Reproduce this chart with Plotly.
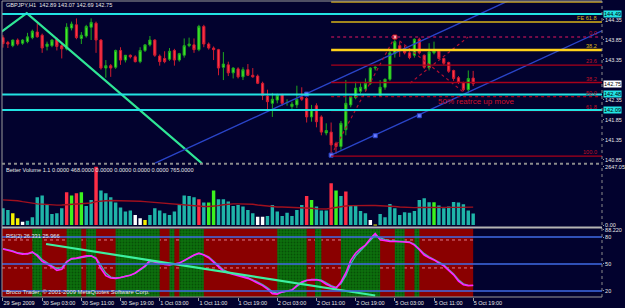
import plotly.graph_objects as go

# ---------------- data ----------------
bars = list(range(97))
opens = [143.90, 143.78, 143.70, 143.84, 143.76, 143.80, 143.90, 144.04, 143.96, 143.68,
         143.70, 143.86, 143.70, 143.62, 144.14, 144.22, 143.88, 143.94, 144.16, 144.26,
         143.84, 143.14, 143.20, 143.16, 143.58, 143.34, 143.46, 143.42, 143.30, 143.58,
         143.72, 143.84, 143.44, 143.38, 143.36, 143.58, 143.34, 143.46, 143.70, 143.72,
         143.60, 144.18, 143.74, 143.64, 143.60, 143.16, 143.22, 143.02, 143.12, 142.92,
         143.10, 142.96, 142.94, 142.76, 142.44, 142.26, 142.34, 142.48, 142.28, 142.18,
         142.22, 142.42, 142.38, 141.92, 142.20, 141.92, 141.52, 141.54, 141.26, 141.18,
         141.60, 142.22, 142.40, 142.56, 142.62, 142.76, 143.14, 142.46, 142.66, 142.86,
         143.50, 143.70, 143.62, 143.52, 143.46, 143.86, 143.46, 143.14, 143.52, 143.56,
         143.38, 143.28, 143.08, 142.90, 142.78, 142.60, 142.89]
highs = [143.96, 143.82, 143.85, 143.88, 143.86, 144.02, 144.10, 144.26, 144.00, 143.80,
         143.86, 143.90, 143.74, 144.26, 144.30, 144.38, 144.04, 144.22, 144.38, 144.30,
         143.86, 143.34, 143.24, 143.60, 143.66, 143.46, 143.48, 143.46, 143.66, 143.72,
         143.94, 143.86, 143.48, 143.56, 143.64, 143.62, 143.52, 143.88, 143.90, 143.88,
         144.22, 144.22, 143.78, 143.68, 143.62, 143.54, 143.30, 143.16, 143.16, 143.16,
         143.24, 143.14, 142.98, 142.80, 142.60, 142.52, 142.50, 142.50, 142.36, 142.30,
         142.70, 142.66, 142.42, 142.22, 142.26, 141.96, 141.76, 141.78, 141.30, 141.82,
         142.84, 142.44, 142.80, 142.76, 142.88, 143.16, 143.18, 142.84, 142.88, 143.60,
         143.91, 143.80, 143.70, 143.56, 143.88, 143.90, 143.48, 143.76, 143.80, 143.60,
         143.40, 143.30, 143.10, 142.94, 142.80, 143.08, 143.07]
lows = [143.65, 143.64, 143.66, 143.70, 143.72, 143.76, 143.86, 143.90, 143.52, 143.58,
        143.66, 143.58, 143.38, 143.58, 144.08, 143.86, 143.74, 143.90, 143.84, 143.52,
        143.10, 142.90, 142.92, 143.12, 143.22, 143.28, 143.38, 143.28, 143.26, 143.54,
        143.68, 143.42, 143.20, 143.26, 143.32, 143.20, 143.30, 143.40, 143.66, 143.52,
        143.56, 143.66, 143.60, 143.34, 142.96, 142.84, 142.94, 142.88, 142.88, 142.84,
        142.94, 142.90, 142.74, 142.34, 142.10, 141.92, 142.26, 142.20, 142.20, 142.12,
        142.14, 142.32, 141.78, 141.80, 141.66, 141.46, 141.46, 140.96, 141.00, 141.10,
        141.46, 142.16, 142.36, 142.50, 142.56, 142.72, 143.08, 142.44, 142.60, 142.82,
        143.40, 143.42, 143.48, 143.36, 143.40, 143.48, 143.12, 143.08, 143.48, 143.36,
        143.22, 143.02, 142.82, 142.74, 142.56, 142.52, 142.69]
closes = [143.75, 143.74, 143.84, 143.74, 143.84, 143.92, 144.06, 143.92, 143.64, 143.74,
          143.84, 143.68, 143.62, 144.16, 144.24, 143.90, 143.96, 144.18, 144.28, 143.84,
          143.14, 143.20, 143.14, 143.58, 143.34, 143.46, 143.42, 143.30, 143.58, 143.72,
          143.84, 143.46, 143.30, 143.30, 143.56, 143.34, 143.50, 143.70, 143.74, 143.60,
          144.18, 143.74, 143.64, 143.60, 143.14, 143.24, 143.02, 143.14, 142.92, 143.10,
          142.96, 142.92, 142.76, 142.46, 142.30, 142.36, 142.46, 142.26, 142.28, 142.24,
          142.36, 142.36, 141.92, 142.10, 141.80, 141.54, 141.58, 141.22, 141.18, 141.76,
          142.26, 142.42, 142.64, 142.66, 142.76, 143.14, 143.16, 142.66, 142.86, 143.52,
          143.80, 143.58, 143.52, 143.40, 143.86, 143.52, 143.16, 143.54, 143.58, 143.38,
          143.26, 143.06, 142.88, 142.78, 142.60, 142.88, 142.75]

volumes = [760, 684, 532, 304, 152, 198, 350, 1262, 1338, 912,
           502, 532, 760, 1490, 1338, 1444, 1490, 866, 1140, 2647,
           1566, 1444, 1262, 1018, 790, 608, 654, 456, 304, 228,
           456, 760, 654, 532, 456, 608, 942, 1338, 1322, 1262,
           1170, 1018, 1018, 1566, 1170, 1170, 1064, 866, 912, 836,
           684, 532, 380, 380, 410, 912, 608, 410, 562, 410,
           684, 912, 1322, 1140, 836, 654, 654, 1900, 1566, 1322,
           1520, 866, 912, 638, 532, 228, 20, 502, 350, 958,
           760, 456, 578, 562, 638, 1140, 1216, 1034, 1034, 882,
           760, 836, 1050, 1018, 942, 654, 520]
vol_kind = list("TTYYWTTTTT" "TTTRLRLTTR" "TTTTTTTWWY" "TTTTTTTTTT" "RTLLTTTTTT"
                "TTWWTTTTTT" "TTRLTTTRLT" "RTTTTWYTTT" "TTTTTTTTLT" "TTTTTTT")
vol_ma = [1140, 1130, 1120, 1100, 1060, 1020, 980, 960, 950, 930,
          910, 905, 910, 930, 950, 960, 980, 990, 1000, 1060,
          1090, 1100, 1110, 1110, 1100, 1100, 1100, 1090, 1080, 1060,
          1040, 1020, 1000, 990, 980, 970, 950, 930, 900, 870,
          850, 840, 840, 850, 880, 920, 950, 958, 960, 960,
          955, 940, 910, 880, 850, 830, 820, 815, 810, 800,
          790, 780, 775, 760, 740, 730, 730, 760, 800, 840,
          866, 880, 890, 890, 890, 890, 885, 880, 870, 860,
          840, 820, 800, 790, 790, 795, 800, 805, 805, 800,
          800, 800, 800, 800, 805, 810, 810]

rsi_main = [66.7, 65.5, 64, 62, 61, 61.5, 63.5, 59, 53, 50,
            47, 43, 44, 52, 56, 56.5, 57.5, 59, 59, 56,
            45, 37, 34.5, 34, 35, 36, 37.5, 40, 44, 48,
            54, 52, 50.5, 49.5, 49, 50, 51, 54, 57, 60,
            62, 60, 57, 52, 46, 42, 40, 38.5, 37, 36,
            34, 31.5, 29, 26, 22, 17, 16.5, 19, 20, 21,
            26, 30, 32, 32.5, 32.5, 31, 27.5, 25, 23, 30,
            40, 54, 62, 67, 71, 78, 84, 77, 76, 75,
            75, 75, 74.5, 74, 71, 66, 60, 57, 54.5, 51,
            48, 43, 38, 31, 27, 26, 26.331]
rsi_signal = [67, 66, 64.5, 62.5, 61.5, 61, 62.5, 60.5, 55, 51,
              48, 45, 46, 53, 55.5, 56, 57, 58.5, 59, 57,
              48, 40, 35.5, 34.5, 35, 36, 37.5, 39.5, 43.5, 47,
              52.5, 52.5, 51, 50, 49.5, 50, 51, 53.5, 56.5, 59.5,
              61.5, 60.5, 58, 53.5, 48, 43.5, 41, 39.5, 38, 36.5,
              35, 32.5, 30, 27, 23.5, 19, 17.5, 18.5, 20, 21,
              25, 29, 31.5, 33, 33, 32, 29, 26, 24, 28,
              37, 50, 59, 65, 70, 76, 82, 79, 77, 76,
              75.5, 75.5, 75, 74.5, 72, 67, 61.5, 58, 55, 52,
              49, 44, 39, 32.5, 28, 26.2, 25.966]
green_zone_start = [6, 13, 17, 23, 34, 36, 56, 63.7, 69, 80, 84]
green_zone_end = [8, 16, 19, 32, 35, 41, 62, 65, 77, 82, 85]
zone_end_bar = 96

tick_bars = [0, 8, 16, 24, 32, 40, 48, 56, 64, 72, 80, 88, 96]
tick_labels = ['29 Sep 2009', '30 Sep 03:00', '30 Sep 11:00', '30 Sep 19:00', '1 Oct 03:00',
               '1 Oct 11:00', '1 Oct 19:00', '2 Oct 03:00', '2 Oct 11:00', '2 Oct 19:00',
               '5 Oct 03:00', '5 Oct 11:00', '5 Oct 19:00']
price_ticks = [144.35, 143.85, 143.35, 142.35, 141.85, 141.35, 140.85]

cyan_levels = [144.49, 142.48, 142.09]
fib_start_bar = 67
fib_high = 143.915
fib_low = 140.94
fib_pcts = [0.0, 23.6, 38.2, 50.0, 61.8, 100.0]
fib_texts = ['0.0', '23.6', '38.2', '50.0', '61.8', '100.0']
fe_levels = [144.79, 144.29, 143.59]
fe_texts = ['', 'FE 61.8', '38.2']

green_tl_x = [-0.27, 4.85, 40.6]
green_tl_y = [144.05, 144.51, 140.76]
chan_up_x = [31.05, 103.55]
chan_up_y = [140.765, 144.84]
chan_lo_x = [67, 122.3]
chan_lo_y = [140.965, 144.07]
chan_pts_x = [62, 67, 76, 85]
chan_pts_y = [142.49, 140.965, 141.45, 141.95]
dot_a_x = [67, 80]
dot_a_y = [140.965, 143.915]
dot_b_x = [80, 94]
dot_b_y = [143.915, 142.54]
dot_c_x = [83.1, 94.97]
dot_c_y = [142.765, 143.915]
rsi_tl_x = [8.8, 76]
rsi_tl_y = [72.2, 15.0]

# ---------------- style ----------------
BG = '#02022E'
FONT = 'Liberation Sans, Arial, sans-serif'
TXT = '#E6E6E6'
kind_color = {'T': '#1FB4A8', 'R': '#FF2D45', 'L': '#3CF21E', 'Y': '#F5F000', 'W': '#FFFFFF'}
XR = [-0.2, 122.3]
MAIN_R = [140.7525, 144.815]
VOL_R = [-90, 2747]
RSI_R = [13.3, 88.9]

fig = go.Figure()

# RSI zones (green) as patterned bars
gx = [(a + b) / 2 for a, b in zip(green_zone_start, green_zone_end)]
gw = [b - a for a, b in zip(green_zone_start, green_zone_end)]
fig.add_trace(go.Bar(x=gx, y=[RSI_R[1] - RSI_R[0]] * len(gx), base=RSI_R[0], width=gw,
                     xaxis='x', yaxis='y3',
                     marker=dict(color='#0C700C', line=dict(width=0),
                                 pattern=dict(shape='.', fgcolor='#022E02', bgcolor='#0C700C',
                                              size=3, solidity=0.3)),
                     hoverinfo='skip'))
fig.add_trace(go.Scatter(x=bars, y=rsi_signal, xaxis='x', yaxis='y3', mode='lines',
                         line=dict(color='#3FB8B8', width=1.3), hoverinfo='skip'))
fig.add_trace(go.Scatter(x=bars, y=rsi_main, xaxis='x', yaxis='y3', mode='lines',
                         line=dict(color='#FF22FF', width=1.6), hoverinfo='skip'))
fig.add_trace(go.Scatter(x=rsi_tl_x, y=rsi_tl_y, xaxis='x', yaxis='y3', mode='lines',
                         line=dict(color='#3CF0A0', width=2.2), hoverinfo='skip'))

# Volume
fig.add_trace(go.Bar(x=bars, y=volumes, xaxis='x', yaxis='y2', width=0.7,
                     marker=dict(color=[kind_color[k] for k in vol_kind], line=dict(width=0)),
                     hoverinfo='skip'))
fig.add_trace(go.Scatter(x=bars, y=vol_ma, xaxis='x', yaxis='y2', mode='lines',
                         line=dict(color='#A0101E', width=1.4), hoverinfo='skip'))

# Candles
fig.add_trace(go.Candlestick(x=bars, open=opens, high=highs, low=lows, close=closes,
                             xaxis='x', yaxis='y', whiskerwidth=0,
                             increasing=dict(line=dict(color='#1FA81F', width=1), fillcolor='#44EE2A'),
                             decreasing=dict(line=dict(color='#D01C30', width=1), fillcolor='#FF3348'),
                             hoverinfo='skip'))

# Trend lines on main chart
fig.add_trace(go.Scatter(x=green_tl_x, y=green_tl_y, mode='lines', xaxis='x', yaxis='y',
                         line=dict(color='#2FE595', width=2.2), hoverinfo='skip'))
for xs, ys in [(chan_up_x, chan_up_y), (chan_lo_x, chan_lo_y)]:
    fig.add_trace(go.Scatter(x=xs, y=ys, mode='lines', xaxis='x', yaxis='y',
                             line=dict(color='#2A44C8', width=1.4), hoverinfo='skip'))
for xs, ys in [(dot_a_x, dot_a_y), (dot_b_x, dot_b_y), (dot_c_x, dot_c_y)]:
    fig.add_trace(go.Scatter(x=xs, y=ys, mode='lines', xaxis='x', yaxis='y',
                             line=dict(color='#B01030', width=1.2, dash='dot'), hoverinfo='skip'))
fig.add_trace(go.Scatter(x=chan_pts_x, y=chan_pts_y, mode='markers', xaxis='x', yaxis='y',
                         marker=dict(symbol='square', size=4, color='#6C7CFF',
                                     line=dict(color='#2A44C8', width=1)), hoverinfo='skip'))
fig.add_trace(go.Scatter(x=[dot_a_x[1]], y=[dot_a_y[1]], mode='markers', xaxis='x', yaxis='y',
                         marker=dict(symbol='square', size=4, color='#FFB0B0',
                                     line=dict(color='#D01020', width=1)), hoverinfo='skip'))

shapes = []
# RSI red background and faint dotted levels
shapes.append(dict(type='rect', xref='x', yref='y3 domain', x0=XR[0], x1=zone_end_bar, y0=0, y1=1,
                   fillcolor='#8A0000', line=dict(width=0), layer='below'))
for lv in [76.7, 45.6]:
    shapes.append(dict(type='line', xref='x', yref='y3', x0=XR[0], x1=zone_end_bar, y0=lv, y1=lv,
                       line=dict(color='#E07A8A', width=1, dash='dot'), layer='below'))
for lv in [80, 50, 20]:
    shapes.append(dict(type='line', xref='paper', yref='y3', x0=0, x1=1, y0=lv, y1=lv,
                       line=dict(color='#3F6BE6', width=1.5)))
# Fibonacci retracement
for p in fib_pcts:
    lv = fib_high - (fib_high - fib_low) * p / 100
    shapes.append(dict(type='line', xref='x', yref='y', x0=fib_start_bar, x1=XR[1], y0=lv, y1=lv,
                       line=dict(color='#A8001A' if p else '#9A1050', width=1.4,
                                 dash='dot' if p in (0.0, 50.0) else 'solid')))
# FE levels
for lv, w, c in zip(fe_levels, [1.4, 1.6, 2.4], ['#C8A018', '#D8B418', '#FFD21A']):
    shapes.append(dict(type='line', xref='x', yref='y', x0=fib_start_bar, x1=XR[1], y0=lv, y1=lv,
                       line=dict(color=c, width=w)))
# Cyan horizontals
for lv in cyan_levels:
    shapes.append(dict(type='line', xref='paper', yref='y', x0=0, x1=1, y0=lv, y1=lv,
                       line=dict(color='#22E3E3', width=2)))
# Borders / separators
shapes += [
    dict(type='line', xref='paper', yref='paper', x0=0, x1=0, y0=0, y1=1, line=dict(color='#9A9A9A', width=1)),
    dict(type='line', xref='paper', yref='paper', x0=1, x1=1, y0=0, y1=1, line=dict(color='#8A8A8A', width=1, dash='dot')),
    dict(type='line', xref='paper', yref='paper', x0=0, x1=1, y0=1, y1=1, line=dict(color='#9A9A9A', width=1)),
    dict(type='line', xref='paper', yref='paper', x0=0, x1=1, y0=0, y1=0, line=dict(color='#9A9A9A', width=1)),
    dict(type='line', xref='paper', yref='paper', x0=0, x1=1, y0=0.4505, y1=0.4505, line=dict(color='#8C8C8C', width=2, dash='dot')),
    dict(type='line', xref='paper', yref='paper', x0=0, x1=1, y0=0.2348, y1=0.2348, line=dict(color='#B4B4B4', width=2)),
]

annotations = []
def txt(x, y, s, size=6, color=TXT, xanchor='left', yanchor='middle', xref='paper', yref='paper', **kw):
    annotations.append(dict(x=x, y=y, text=s, xref=xref, yref=yref, xanchor=xanchor, yanchor=yanchor,
                            showarrow=False, font=dict(family=FONT, size=size, color=color), **kw))

txt(0.004, 0.985, 'GBPJPY,H1  142.89 143.07 142.69 142.75', size=5.6)
txt(0.004, 0.430, 'Better Volume 1.1 0.0000 468.0000 0.0000 0.0000 0.0000 0.0000 765.0000', size=5.6)
txt(0.004, 0.207, 'RSI(2) 26.331 25.966', size=5.6)
txt(0.004, 0.018, 'Broco Trader, © 2001-2009 MetaQuotes Software Corp.', size=5.8)
txt(88.4, 142.30, '50% reatrce up move', size=8, color='#D0102A', xref='x', yref='y')
for p, s in zip(fib_pcts, fib_texts):
    lv = fib_high - (fib_high - fib_low) * p / 100
    txt(0.9935, lv, s, size=5.6, color='#C01025', xanchor='right', yanchor='bottom', yref='y', borderpad=0)
for lv, s in zip(fe_levels, fe_texts):
    if s:
        txt(0.9935, lv, s, size=5.6, color='#D8B418', xanchor='right', yanchor='bottom', yref='y', borderpad=0)
for lv in cyan_levels:
    txt(1.0, lv, f'{lv:.2f}', size=5.6, color='#000000', yref='y', bgcolor='#22E3E3', borderpad=0, xshift=1)
txt(1.0, closes[-1], f'{closes[-1]:.2f}', size=5.6, color='#000000', yref='y', bgcolor='#FFFFFF', borderpad=0, xshift=1)

axfont = dict(family=FONT, size=5.5, color=TXT)
fig.update_layout(
    width=625, height=308, margin=dict(l=2, r=23, t=1, b=11, autoexpand=False),
    paper_bgcolor=BG, plot_bgcolor=BG, showlegend=False, barmode='overlay', boxgap=0.35,
    shapes=shapes, annotations=annotations,
    xaxis=dict(range=XR, domain=[0, 1], anchor='y3', showgrid=False, zeroline=False, showline=False,
               tickvals=tick_bars, ticktext=tick_labels, ticklabelposition='outside right',
               tickangle=0, automargin=False, ticklabeloverflow='allow',
               ticks='outside', ticklen=3, tickcolor='#9A9A9A', tickfont=axfont,
               rangeslider=dict(visible=False)),
    yaxis=dict(domain=[0.4505, 1.0], range=MAIN_R, side='right', anchor='x', showgrid=False,
               zeroline=False, tickvals=price_ticks, ticktext=[f'{v:.2f}' for v in price_ticks],
               automargin=False,
               ticks='outside', ticklen=1, tickcolor='#9A9A9A', tickfont=axfont),
    yaxis2=dict(domain=[0.2365, 0.4476], range=VOL_R, side='right', anchor='x', showgrid=False,
                zeroline=False, tickvals=[2647.05, 0], ticktext=['2647.05', '0.00'], automargin=False,
                ticks='outside', ticklen=1, tickcolor='#9A9A9A', tickfont=axfont),
    yaxis3=dict(domain=[0.0, 0.2297], range=RSI_R, side='right', anchor='x', showgrid=False,
                zeroline=False, tickvals=[88.22, 80, 50, 20, 13.19], automargin=False,
                ticktext=['88.220', '80', '50', '20', '13.19'],
                ticks='outside', ticklen=1, tickcolor='#9A9A9A', tickfont=axfont),
)

fig.write_html('out.html')
